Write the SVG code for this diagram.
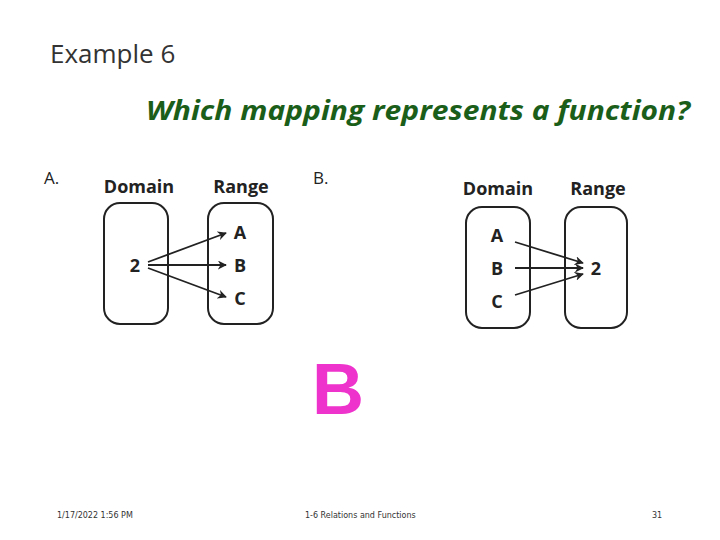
<svg xmlns="http://www.w3.org/2000/svg" width="720" height="540" viewBox="0 0 720 540">
<style>
.t{font-family:"Open Sans","DejaVu Sans",sans-serif}
.b{font-family:"Open Sans","DejaVu Sans",sans-serif;font-weight:bold;font-size:18px;fill:#222;text-anchor:middle}
.box{fill:none;stroke:#222;stroke-width:2}
.ar{stroke:#222;stroke-width:1.8;marker-end:url(#m)}
.f{font-family:"DejaVu Sans",sans-serif;font-size:8px;fill:#333}
</style>
<defs><marker id="m" viewBox="0 0 10 10" refX="9" refY="5" markerWidth="5" markerHeight="5" orient="auto"><path d="M0,0L10,5L0,10L3,5z" fill="#222"/></marker></defs>
<rect width="720" height="540" fill="#fff"/>
<text class="t" x="50" y="63" font-size="26" fill="#333">Example 6</text>
<text class="t" x="146" y="120" font-size="26" font-style="italic" font-weight="bold" fill="#1a5e1a" textLength="544" lengthAdjust="spacingAndGlyphs">Which mapping represents a function?</text>
<text class="t" x="44" y="184" font-size="17" fill="#222">A.</text>
<text class="t" x="313" y="184" font-size="17" fill="#222">B.</text>
<g id="nodeA">
<text class="b" x="139" y="193">Domain</text><text class="b" x="241" y="193">Range</text>
<rect class="box" x="104" y="203" width="64" height="121" rx="16"/>
<rect class="box" x="208" y="203" width="65" height="121" rx="16"/>
<text class="b" x="135" y="272">2</text>
<text class="b" x="240" y="239">A</text><text class="b" x="240" y="272">B</text><text class="b" x="240" y="305">C</text>
</g>
<g id="nodeB">
<text class="b" x="498" y="195">Domain</text><text class="b" x="598" y="195">Range</text>
<rect class="box" x="466" y="207" width="64" height="121" rx="16"/>
<rect class="box" x="565" y="207" width="62" height="121" rx="16"/>
<text class="b" x="497" y="242">A</text><text class="b" x="497" y="275">B</text><text class="b" x="497" y="308">C</text>
<text class="b" x="596" y="275">2</text>
</g>
<g id="connectors">
<line class="ar" x1="148" y1="262" x2="226" y2="233"/>
<line class="ar" x1="148" y1="265" x2="226" y2="265"/>
<line class="ar" x1="148" y1="268" x2="226" y2="297"/>
<line class="ar" x1="515" y1="242" x2="583" y2="263"/>
<line class="ar" x1="515" y1="268" x2="583" y2="268"/>
<line class="ar" x1="515" y1="295" x2="583" y2="274"/>
</g>
<text x="338" y="414" font-family="Liberation Sans,sans-serif" font-weight="bold" font-size="72" fill="#ee33cc" text-anchor="middle">B</text>
<text class="f" x="57" y="518">1/17/2022 1:56 PM</text>
<text class="f" x="305" y="518">1-6 Relations and Functions</text>
<text class="f" x="652" y="518">31</text>
</svg>
